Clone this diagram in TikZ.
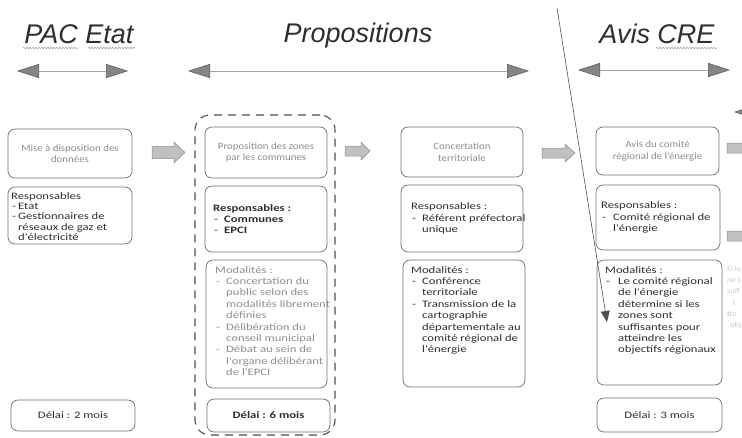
\documentclass[tikz,border=0pt]{standalone}
\usepackage{fontspec}
\setmainfont{Carlito}[FakeStretch=1.12]
\newfontfamily\bodyfont{Carlito}[FakeStretch=1.28]
\newfontfamily\headfont{Liberation Sans}
\usetikzlibrary{arrows.meta,decorations.pathmorphing}
\definecolor{boxline}{HTML}{6E6E6E}
\definecolor{ink}{HTML}{2E2E2E}
\definecolor{faded}{HTML}{8E8E8E}
\definecolor{tipfill}{HTML}{858585}
\definecolor{tipedge}{HTML}{555555}
\definecolor{hline}{HTML}{A8A8A8}
\definecolor{blockfill}{HTML}{C0C0C0}
\definecolor{blockedge}{HTML}{8C8C8C}
\definecolor{squig}{HTML}{B5AE86}
\definecolor{diagcol}{HTML}{505050}
\newcommand\mkbox[6][]{\node[box,#1,minimum width={(#5-#3)*1pt},minimum height={(#6-#4)*1pt}] (#2) at ({(#3+#5)/2},{(#4+#6)/2}) {};}
\newcommand\dsh[1][11pt]{\makebox[#1][l]{\hspace{1pt}-}}
\newcommand\indt[1][11pt]{\hspace*{#1}}
% block arrow: x1, x2, y centre, half shaft, half head, head length
\newcommand\barrow[6]{\draw[blockarr] (#1,#3-#4) -- (#2-#6,#3-#4) -- (#2-#6,#3-#5) -- (#2,#3) -- (#2-#6,#3+#5) -- (#2-#6,#3+#4) -- (#1,#3+#4) -- cycle;}
\begin{document}
\begin{tikzpicture}[x=1pt,y=-1pt,
  box/.style={draw=boxline,line width=0.7pt,rounded corners=7pt,inner sep=0pt,outer sep=0pt},
  groupbox/.style={draw=diagcol,line width=1.1pt,dash pattern=on 8pt off 6pt,rounded corners=15pt},
  txt/.style={inner sep=0pt,font={\bodyfont\fontsize{9.9}{11.4}\selectfont},text=ink},
  tighttxt/.style={txt,font={\bodyfont\fontsize{9.9}{10.4}\selectfont}},
  fadedtxt/.style={inner sep=0pt,font={\fontsize{9.7}{11.4}\selectfont},text=faded},
  fadedbody/.style={txt,text=faded},
  head/.style={inner sep=0pt,font={\headfont\itshape\fontsize{27}{30}\selectfont},text=ink},
  harrow/.style={draw=hline,line width=0.6pt,
    {Triangle[length=22pt,width=14pt,fill=tipfill,color=tipedge,line width=0.5pt]}-{Triangle[length=22pt,width=14pt,fill=tipfill,color=tipedge,line width=0.5pt]}},
  blockarr/.style={draw=blockedge,fill=blockfill,line width=0.5pt,line join=miter},
  squiggle/.style={draw=squig,line width=0.6pt,decorate,decoration={snake,amplitude=0.8pt,segment length=3pt}},
  diag/.style={draw=diagcol,line width=0.6pt,-{Triangle[length=11pt,width=9pt,fill=diagcol]}}
]
\useasboundingbox (0,0) rectangle (742,437);
\clip (0,0) rectangle (742,437);

% headers
\node[head,anchor=base] (hpac) at (79,43) {PAC Etat};
\node[head,anchor=base] (hprop) at (358,42) {Propositions};
\node[head,anchor=base] (hcre) at (657,43) {Avis CRE};
\draw[squiggle] (23,48) -- (78,48);
\draw[squiggle] (88,48) -- (135,48);
\draw[squiggle] (656,48) -- (717,48);

% header arrows
\coordinate (pacL) at (17,71);  \coordinate (pacR) at (128,71);
\coordinate (propL) at (188,71); \coordinate (propR) at (529,71);
\coordinate (creL) at (578,70);  \coordinate (creR) at (730,70);
\draw[harrow] (pacL) -- (pacR);
\draw[harrow] (propL) -- (propR);
\draw[harrow] (creL) -- (creR);
\coordinate (edgeTip) at (734,112); \coordinate (edgeFar) at (800,112);
\draw[draw=hline,line width=0.6pt,-{Triangle[length=22pt,width=14pt,fill=tipfill,color=tipedge,line width=0.5pt]}] (edgeFar) -- (edgeTip);

% dashed group
\mkbox[groupbox]{grp}{195}{115}{335}{435}

% column 1
\mkbox{b1}{8}{129}{132}{178}
\mkbox{r1}{8}{187}{132}{244}
\mkbox{d1}{11}{400}{135}{431}
% column 2
\mkbox{b2}{205}{127}{327}{178}
\mkbox{r2}{205}{186}{327}{252}
\mkbox{m2}{206}{260}{327}{388}
\mkbox{d2}{207}{399}{330}{432}
% column 3
\mkbox{b3}{401}{127}{523}{177}
\mkbox{r3}{401}{185}{523}{252}
\mkbox{m3}{403}{260}{525}{387}
% column 4
\mkbox{b4}{596}{127}{719}{175}
\mkbox{r4}{596}{185}{720}{250}
\mkbox{m4}{597}{260}{722}{385}
\mkbox{d4}{597}{398}{722}{432}

% block arrows
\barrow{152}{185}{152.5}{6}{10.5}{11}
\barrow{345}{370}{151}{5}{9}{9}
\barrow{542}{575}{153}{5}{9}{10}
\barrow{727}{760}{148}{5}{10}{11}
\barrow{727}{760}{236}{5}{10}{11}

% texts column 1
\node[fadedtxt,align=center] (t1a) at (b1) {Mise à disposition des\\données};
\node[tighttxt,align=left,anchor=north west] (t1b) at ([shift={(3,5)}]r1.north west)
  {Responsables\\\dsh[7pt]Etat\\\dsh[7pt]Gestionnaires de\\\indt[7pt]réseaux de gaz et\\\indt[7pt]d'électricité};
\node[txt] (t1d) at (d1) {Délai : 2 mois};

% texts column 2
\node[fadedtxt,align=center] (t2a) at (b2) {Proposition des zones\\par les communes};
\node[txt,align=left,anchor=west] (t2b) at ([xshift=8]r2.west)
  {\textbf{Responsables :}\\\dsh\textbf{Communes}\\\dsh\textbf{EPCI}};
\node[fadedbody,align=left,anchor=north west] (t2c) at ([shift={(9,6)}]m2.north west)
  {Modalités :\\\dsh Concertation du\\\indt public selon des\\\indt modalités librement\\\indt définies\\\dsh Délibération du\\\indt conseil municipal\\\dsh Débat au sein de\\\indt l'organe délibérant\\\indt de l'EPCI};
\node[txt,font={\bodyfont\fontsize{9.9}{11.4}\selectfont\bfseries}] (t2d) at (d2) {Délai : 6 mois};

% texts column 3
\node[fadedtxt,align=center] (t3a) at (b3) {Concertation\\territoriale};
\node[txt,align=left,anchor=west] (t3b) at ([xshift=10]r3.west)
  {Responsables :\\\dsh Référent préfectoral\\\indt unique};
\node[txt,align=left,anchor=north west] (t3c) at ([shift={(8,6)}]m3.north west)
  {Modalités :\\\dsh Conférence\\\indt territoriale\\\dsh Transmission de la\\\indt cartographie\\\indt départementale au\\\indt comité régional de\\\indt l'énergie};

% texts column 4
\node[fadedtxt,align=center] (t4a) at (b4) {Avis du comité\\régional de l'énergie};
\node[txt,align=left,anchor=west] (t4b) at ([xshift=5]r4.west)
  {Responsables :\\\dsh[12pt]Comité régional de\\\indt[12pt]l'énergie};
\node[txt,align=left,anchor=north west] (t4c) at ([shift={(8,6)}]m4.north west)
  {Modalités :\\\dsh[13pt]Le comité régional\\\indt[13pt]de l'énergie\\\indt[13pt]détermine si les\\\indt[13pt]zones sont\\\indt[13pt]suffisantes pour\\\indt[13pt]atteindre les\\\indt[13pt]objectifs régionaux};
\node[txt] (t4d) at (d4) {Délai : 3 mois};

% faint fragments at right edge
\node[inner sep=0pt,font={\fontsize{7.5}{11.2}\selectfont},text=gray!45,align=left,anchor=north west] (t5) at (727,266)
  {Si le\\ne s\\suff\\\hspace*{6pt}(\\tte\\\hspace*{3pt}obj};

% diagonal arrow
\coordinate (dtop) at (557,8);
\coordinate (dend) at (607,322);
\draw[diag] (dtop) -- (dend);
\end{tikzpicture}
\end{document}
